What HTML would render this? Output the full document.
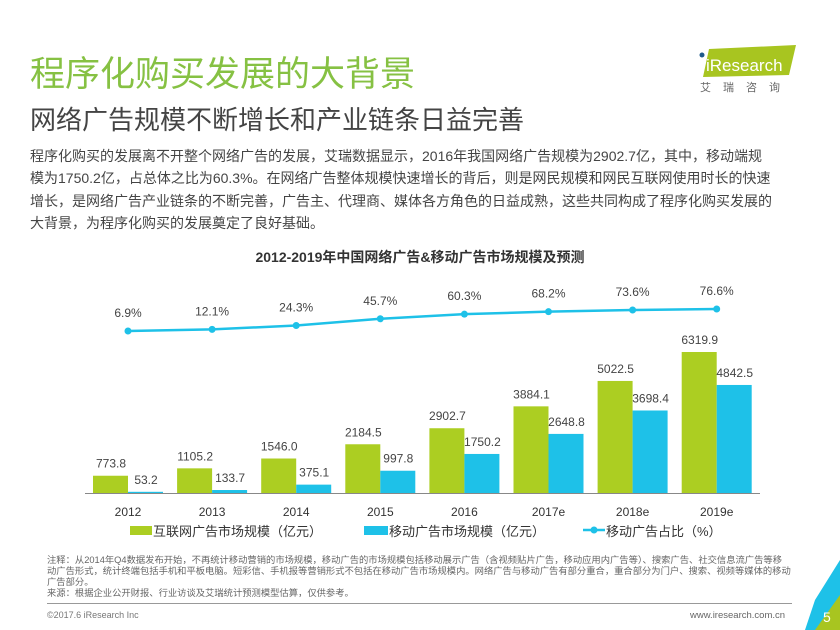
<!DOCTYPE html>
<html><head><meta charset="utf-8"><style>
body{margin:0;width:840px;height:630px;background:#fff;position:relative;overflow:hidden;font-family:"Liberation Sans","Noto Sans CJK SC",sans-serif;}
.abs{position:absolute;}
</style></head><body>
<div class="abs" style="left:30px;top:46px;font-size:35px;color:#86c143;">程序化购买发展的大背景</div>
<div class="abs" style="left:30px;top:100px;font-size:26px;color:#444;">网络广告规模不断增长和产业链条日益完善</div>
<div class="abs" style="left:697px;top:45px;width:100px;height:48px;">
<svg width="100" height="48"><polygon points="12,4 99,0 92,30 6,32" fill="#a8c520"/><circle cx="5" cy="10" r="2.5" fill="#1e5a8c"/><text x="9" y="26" font-size="17" fill="#fff" font-family="Liberation Sans">iResearch</text><text x="3" y="46" font-size="11" fill="#666" letter-spacing="12" font-family="Noto Sans CJK SC">艾瑞咨询</text></svg></div>
<div class="abs" style="left:30px;top:145px;white-space:nowrap;font-size:14px;line-height:22.3px;color:#444;">程序化购买的发展离不开整个网络广告的发展，艾瑞数据显示，2016年我国网络广告规模为2902.7亿，其中，移动端规<br>模为1750.2亿，占总体之比为60.3%。在网络广告整体规模快速增长的背后，则是网民规模和网民互联网使用时长的快速<br>增长，是网络广告产业链条的不断完善，广告主、代理商、媒体各方角色的日益成熟，这些共同构成了程序化购买发展的<br>大背景，为程序化购买的发展奠定了良好基础。</div>
<svg class="abs" style="left:0;top:0" width="840" height="630" id="chart">
<text x="420" y="262" text-anchor="middle" font-size="14" font-weight="bold" fill="#333">2012-2019年中国网络广告&amp;移动广告市场规模及预测</text>
<line x1="85" y1="493.5" x2="760" y2="493.5" stroke="#888" stroke-width="1"/>
<g id="marks"></g>
<g>
<rect x="130" y="526" width="22" height="9" fill="#acce22"/>
<text x="153" y="536" font-size="13" fill="#333">互联网广告市场规模（亿元）</text>
<rect x="364" y="526" width="24" height="9" fill="#1ec1e8"/>
<text x="389" y="536" font-size="13" fill="#333">移动广告市场规模（亿元）</text>
<line x1="583" y1="530" x2="605" y2="530" stroke="#1ec1e8" stroke-width="2.5"/>
<circle cx="594" cy="530" r="3.5" fill="#1ec1e8"/>
<text x="606" y="536" font-size="13" fill="#333">移动广告占比（%）</text>
</g>
</svg>
<div class="abs" style="left:47px;top:555px;white-space:nowrap;font-size:9.3px;line-height:11px;color:#666;">注释：从2014年Q4数据发布开始，不再统计移动营销的市场规模，移动广告的市场规模包括移动展示广告（含视频贴片广告，移动应用内广告等）、搜索广告、社交信息流广告等移<br>动广告形式，统计终端包括手机和平板电脑。短彩信、手机报等营销形式不包括在移动广告市场规模内。网络广告与移动广告有部分重合，重合部分为门户、搜索、视频等媒体的移动<br>广告部分。<br>来源：根据企业公开财报、行业访谈及艾瑞统计预测模型估算，仅供参考。</div>
<div class="abs" style="left:47px;top:603px;width:745px;height:1px;background:#999;"></div>
<div class="abs" style="left:47px;top:610px;font-size:9px;color:#777;">©2017.6 iResearch Inc</div>
<div class="abs" style="left:690px;top:610px;font-size:9.5px;color:#666;">www.iresearch.com.cn</div>
<svg class="abs" style="left:795px;top:560px" width="45" height="70"><polygon points="45,0 45,70 10,70 20,40" fill="#1ec1e8"/><polygon points="45,35 45,70 20,70" fill="#a8c520"/><text x="28" y="62" font-size="14" fill="#fff">5</text></svg>
<script>
const categories=["2012","2013","2014","2015","2016","2017e","2018e","2019e"];
const internetValues=[773.8,1105.2,1546.0,2184.5,2902.7,3884.1,5022.5,6319.9];
const mobileValues=[53.2,133.7,375.1,997.8,1750.2,2648.8,3698.4,4842.5];
const shareValues=[6.9,12.1,24.3,45.7,60.3,68.2,73.6,76.6];
const NS="http://www.w3.org/2000/svg";
const g=document.getElementById('marks');
const xc=i=>128+i*84.1;
const yv=v=>493-v*0.02231;
const yp=p=>333.2-p*0.3156;
function el(t,a){const e=document.createElementNS(NS,t);for(const k in a)e.setAttribute(k,a[k]);g.appendChild(e);return e;}
function txt(x,y,s,size,fill){const e=el('text',{x:x,y:y,'text-anchor':'middle','font-size':size,fill:fill});e.textContent=s;return e;}
categories.forEach((c,i)=>{
  const x=xc(i);
  const r1=el('rect',{x:x-35,y:yv(internetValues[i]),width:35,height:493-yv(internetValues[i]),fill:'#acce22'});
  
  
  const r2=el('rect',{x:x,y:yv(mobileValues[i]),width:35,height:493-yv(mobileValues[i]),fill:'#1ec1e8'});
  
  
  const t1=txt(x-17,yv(internetValues[i])-8,internetValues[i].toFixed(1),12,'#444');
  
  
  const t2=txt(x+18,yv(mobileValues[i])-8,mobileValues[i].toFixed(1),12,'#444');
  
  
  const tx=txt(x,516,c,12,'#333');
  
  
});
const pts=shareValues.map((p,i)=>xc(i)+','+yp(p)).join(' ');
const pl=el('polyline',{points:pts,fill:'none',stroke:'#1ec1e8','stroke-width':2.5});


shareValues.forEach((p,i)=>{
  const c=el('circle',{cx:xc(i),cy:yp(p),r:3.5,fill:'#1ec1e8'});
  
  
  const t=txt(xc(i),yp(p)-14,p.toFixed(1)+'%',12,'#444');
  
  
});
</script>
</body></html>
